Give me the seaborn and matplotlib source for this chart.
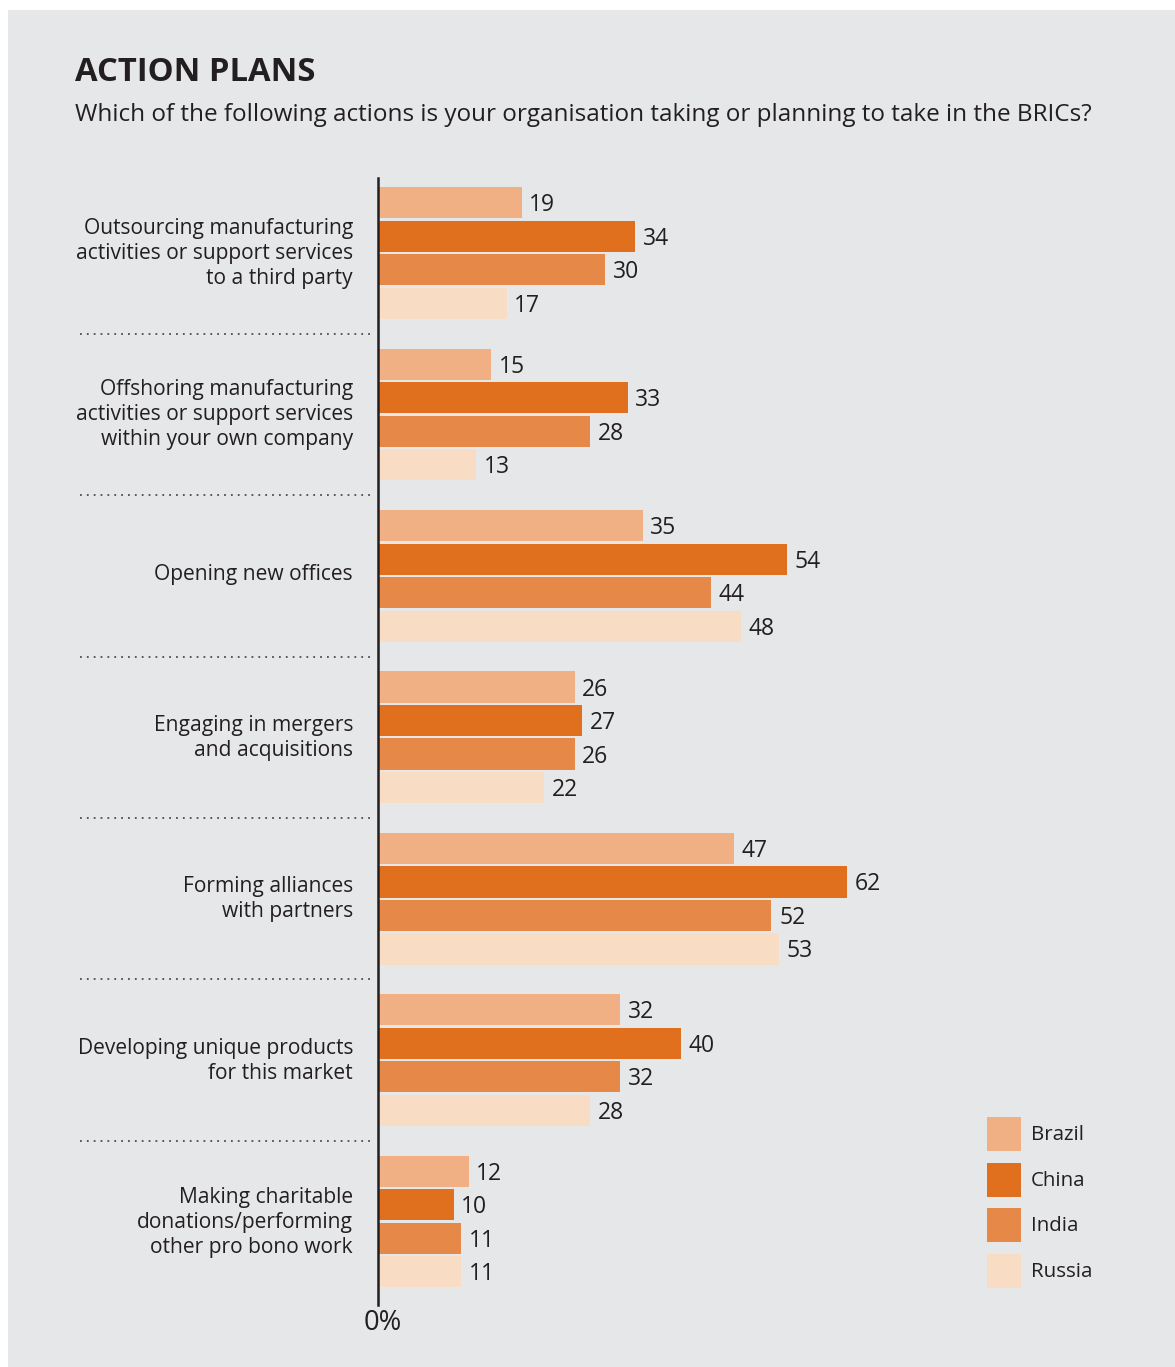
import numpy as np
import pandas as pd
import matplotlib
matplotlib.use("Agg")
import matplotlib.pyplot as plt
import seaborn as sns
from matplotlib import font_manager, transforms
from matplotlib.patches import Rectangle

# ---------------- data ----------------
categories = [
    "Outsourcing manufacturing\nactivities or support services\nto a third party",
    "Offshoring manufacturing\nactivities or support services\nwithin your own company",
    "Opening new offices",
    "Engaging in mergers\nand acquisitions",
    "Forming alliances\nwith partners",
    "Developing unique products\nfor this market",
    "Making charitable\ndonations/performing\nother pro bono work",
]
countries = ["Brazil", "China", "India", "Russia"]
brazil = [19, 15, 35, 26, 47, 32, 12]
china = [34, 33, 54, 27, 62, 40, 10]
india = [30, 28, 44, 26, 52, 32, 11]
russia = [17, 13, 48, 22, 53, 28, 11]
colors = ["#F0B083", "#E0701E", "#E68948", "#F8DCC4"]

title = "ACTION PLANS"
subtitle = "Which of the following actions is your organisation taking or planning to take in the BRICs?"

rows = []
for country, vals in zip(countries, [brazil, china, india, russia]):
    for cat, v in zip(categories, vals):
        rows.append({"category": cat, "country": country, "value": v})
df = pd.DataFrame(rows)

# ---------------- style ----------------
sns.set_theme(style="white")
names = {f.name for f in font_manager.fontManager.ttflist}
main_font = "Liberation Sans Narrow" if "Liberation Sans Narrow" in names else "Open Sans"
plt.rcParams["font.family"] = [main_font, "DejaVu Sans"]
TXT = "#231F20"
BG = "#E6E7E8"

W, H = 1175, 1367
fig = plt.figure(figsize=(W / 100, H / 100), dpi=100, facecolor="white")
fig.patches.append(Rectangle((8 / W, 0), 1 - 8 / W, 1 - 10 / H, transform=fig.transFigure,
                             facecolor=BG, edgecolor="none", zorder=-10))

renderer = fig.canvas.get_renderer()


def size_for(text, target_px, weight="normal"):
    t = fig.text(0, 0, text, fontsize=20, fontweight=weight)
    w = t.get_window_extent(renderer).width
    t.remove()
    return 20 * target_px / w


fs_cat = size_for("activities or support services", 277)
fs_num = size_for("30", 26)
fs_leg = size_for("Brazil", 53)
fs_zero = size_for("0%", 38)

ax = fig.add_axes([378 / W, 1 - 1305 / H, (950 - 378) / W, (1305 - 178) / H])
ax.set_facecolor("none")

sns.barplot(data=df, y="category", x="value", hue="country", order=categories,
            hue_order=countries, palette=colors, orient="h", width=0.83, gap=0.07,
            saturation=1, ax=ax, legend=False, errorbar=None, linewidth=0, edgecolor="none")

ax.set_xlim(0, (950 - 378) / 7.565)
ax.set_ylim(6.517, -0.465)

for c in ax.containers:
    anns = ax.bar_label(c, fmt="{:.0f}", padding=5.5, fontsize=fs_num, color=TXT)
    for a in anns:
        a.xyann = (5.5, -1.8)

for s in ["top", "right", "bottom"]:
    ax.spines[s].set_visible(False)
ax.spines["left"].set_color(TXT)
ax.spines["left"].set_linewidth(1.8)
ax.set_xticks([])
ax.set_xlabel("")
ax.set_ylabel("")
ax.set_yticks(range(len(categories)))
ax.set_yticklabels(categories, fontsize=fs_cat, color=TXT, linespacing=1.25)
ax.tick_params(axis="y", length=0, pad=18)
shift = transforms.ScaledTranslation(0, 4 / 100, fig.dpi_scale_trans)
for lab in ax.get_yticklabels():
    lab.set_transform(lab.get_transform() + shift)

# dotted separators
trans = transforms.blended_transform_factory(fig.transFigure, ax.transData)
for i in range(len(categories) - 1):
    ax.plot([80 / W, 372 / W], [i + 0.5, i + 0.5], transform=trans, linestyle=(0, (1, 2.8)),
            color="#4D4D4F", lw=1.3, clip_on=False)

# 0% label
t0 = transforms.blended_transform_factory(ax.transData, fig.transFigure)
ax.text(0.6, 1 - 1323 / H, "0%", transform=t0, ha="center", va="center", fontsize=fs_zero, color=TXT)

# legend (square swatches + labels)
for i, (col, lab) in enumerate(zip(colors, countries)):
    y_top = 1117 + i * 45.7
    fig.patches.append(Rectangle((987 / W, 1 - (y_top + 34) / H), 34 / W, 34 / H,
                                 transform=fig.transFigure, facecolor=col, edgecolor="none"))
    fig.text(1031 / W, 1 - (y_top + 18) / H, lab, fontsize=fs_leg, color=TXT, va="center", ha="left")

# titles
fig.text(75 / W, 1 - 81 / H, title, fontsize=size_for(title, 240, "bold"),
         fontweight="bold", color=TXT, va="baseline")
fig.text(75 / W, 1 - 121 / H, subtitle, fontsize=size_for(subtitle, 1015), color=TXT, va="baseline")

fig.savefig("out.png", dpi=100, facecolor=fig.get_facecolor())
